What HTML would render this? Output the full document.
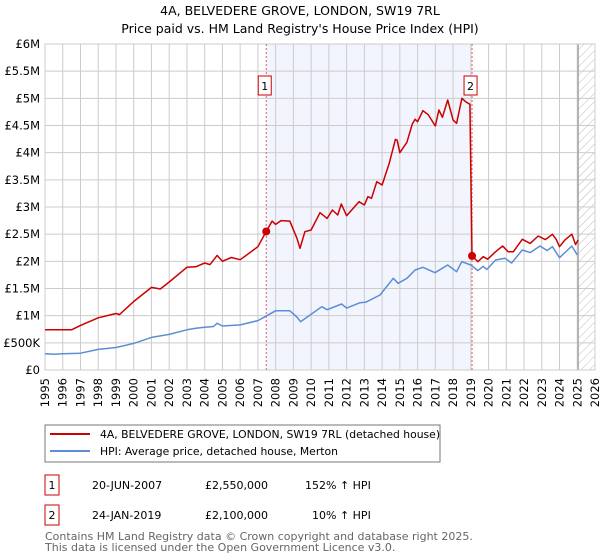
<!DOCTYPE html>
<html><head><meta charset="utf-8"><style>
body{margin:0;background:#fff;font-family:"Liberation Sans","DejaVu Sans",sans-serif;}
svg{display:block}
</style></head><body>
<svg id="c" width="600" height="560" xmlns="http://www.w3.org/2000/svg" font-family="DejaVu Sans, Liberation Sans, sans-serif">
<defs><pattern id="hatch" width="6" height="6" patternUnits="userSpaceOnUse" patternTransform="rotate(45)"><line x1="0" y1="0" x2="0" y2="6" stroke="#bbb" stroke-width="1"/></pattern></defs>
<text x="300" y="15" text-anchor="middle" font-size="12.5">4A, BELVEDERE GROVE, LONDON, SW19 7RL</text>
<text x="300" y="33" text-anchor="middle" font-size="12.5">Price paid vs. HM Land Registry's House Price Index (HPI)</text>
<g id="plot"></g>
<rect x="45" y="425" width="395" height="37" fill="#fff" stroke="#777"/>
<line x1="50" y1="434" x2="90" y2="434" stroke="#cc0000" stroke-width="2"/>
<text x="100" y="438" font-size="10.8">4A, BELVEDERE GROVE, LONDON, SW19 7RL (detached house)</text>
<line x1="50" y1="451" x2="90" y2="451" stroke="#5b8ed6" stroke-width="2"/>
<text x="100" y="455" font-size="10.8">HPI: Average price, detached house, Merton</text>
<g font-size="11">
<rect x="45" y="475" width="14" height="20" fill="#fff" stroke="#cc0000"/>
<text x="52" y="489" text-anchor="middle">1</text>
<text x="92" y="489">20-JUN-2007</text>
<text x="205" y="489">£2,550,000</text>
<text x="305" y="489">152% ↑ HPI</text>
<rect x="45" y="505" width="14" height="20" fill="#fff" stroke="#cc0000"/>
<text x="52" y="519" text-anchor="middle">2</text>
<text x="92" y="519">24-JAN-2019</text>
<text x="205" y="519">£2,100,000</text>
<text x="312" y="519">10% ↑ HPI</text>
</g>
<text x="45" y="540" font-size="11" fill="#666">Contains HM Land Registry data © Crown copyright and database right 2025.</text>
<text x="45" y="551" font-size="11" fill="#666">This data is licensed under the Open Government Licence v3.0.</text>
</svg>
<script>
const hpiYears=[1995,1995.5,1996,1997,1998,1999,2000,2001,2002,2003,2003.5,2004,2004.5,2004.7,2005,2006,2007,2007.5,2008,2008.8,2009.2,2009.4,2009.94,2010.6,2010.9,2011.72,2012,2012.76,2013.1,2013.88,2014.63,2014.9,2015.4,2015.86,2016.3,2016.98,2017.7,2018.2,2018.49,2019.0,2019.4,2019.7,2019.9,2020.4,2020.93,2021.3,2021.9,2022.35,2022.9,2023.3,2023.6,2024.0,2024.69,2025.0];
const hpiValues=[300,290,300,310,380,415,490,600,655,740,770,785,800,860,810,830,910,1000,1090,1090,975,889,1012,1165,1110,1215,1140,1239,1250,1380,1688,1596,1688,1840,1890,1791,1932,1810,1994,1932,1830,1908,1850,2025,2055,1970,2208,2160,2282,2200,2270,2067,2282,2116];
const redYears=[1995,1996.5,1997,1998,1999,1999.2,2000,2001,2001.5,2002,2003,2003.5,2004,2004.3,2004.7,2005,2005.5,2006,2006.3,2007,2007.47,2007.8,2008.0,2008.3,2008.8,2009.2,2009.37,2009.65,2010,2010.5,2010.9,2011.2,2011.5,2011.7,2012,2012.7,2013,2013.2,2013.4,2013.7,2014,2014.4,2014.75,2014.85,2015.0,2015.4,2015.7,2015.86,2016.0,2016.3,2016.6,2017,2017.2,2017.4,2017.7,2018,2018.2,2018.5,2018.7,2018.95,2019.07,2019.4,2019.7,2019.95,2020.4,2020.8,2021.1,2021.4,2021.9,2022.35,2022.8,2023.2,2023.6,2023.8,2024.0,2024.3,2024.7,2024.9,2025.05];
const redValues=[740,740,820,960,1040,1020,1260,1520,1490,1620,1890,1900,1970,1940,2110,2000,2070,2030,2100,2270,2550,2740,2680,2750,2740,2425,2240,2546,2576,2895,2790,2945,2853,3055,2840,3098,3037,3190,3160,3466,3405,3803,4245,4230,4000,4190,4528,4614,4570,4773,4700,4490,4785,4650,4970,4600,4540,5000,4940,4890,2100,1994,2086,2040,2178,2282,2178,2178,2405,2330,2466,2400,2497,2410,2270,2390,2500,2310,2390];
const yTicks=[0,500,1000,1500,2000,2500,3000,3500,4000,4500,5000,5500,6000];
const yTickLabels=["£0","£500K","£1M","£1.5M","£2M","£2.5M","£3M","£3.5M","£4M","£4.5M","£5M","£5.5M","£6M"];
const xTicks=[1995,1996,1997,1998,1999,2000,2001,2002,2003,2004,2005,2006,2007,2008,2009,2010,2011,2012,2013,2014,2015,2016,2017,2018,2019,2020,2021,2022,2023,2024,2025,2026];
const saleYears=[2007.47,2019.07];
const saleValues=[2550,2100];
const saleLabels=["1","2"];
const x0=45,x1=595,y0=370,y1=44,yr0=1995,yr1=2026,vmax=6000,dataEnd=2025.05;
const X=v=>x0+(v-yr0)/(yr1-yr0)*(x1-x0);
const Y=v=>y0-v/vmax*(y0-y1);
const NS="http://www.w3.org/2000/svg";
const g=document.getElementById('plot');
function mk(t,a){const e=document.createElementNS(NS,t);for(const k in a)e.setAttribute(k,a[k]);g.appendChild(e);return e;}
let e;
e=mk('rect',{x:X(saleYears[0]),y:y1,width:X(saleYears[1])-X(saleYears[0]),height:y0-y1,fill:'#f2f5fd'});


e=mk('rect',{x:X(dataEnd),y:y1,width:x1-X(dataEnd),height:y0-y1,fill:'url(#hatch)'});


xTicks.forEach(t=>{
 e=mk('line',{x1:X(t),x2:X(t),y1:y1,y2:y0,stroke:'#cccccc','stroke-width':1});
 
 
 e=mk('text',{x:0,y:0,transform:`translate(${X(t)+4},${y0+8}) rotate(-90)`,'text-anchor':'end','font-size':11.5});
 e.textContent=t;
 
 
});
yTicks.forEach((t,i)=>{
 e=mk('line',{x1:x0,x2:x1,y1:Y(t),y2:Y(t),stroke:'#cccccc','stroke-width':1});
 
 
 e=mk('text',{x:x0-5,y:Y(t)+4,'text-anchor':'end','font-size':11.5});
 e.textContent=yTickLabels[i];
 
 
});
e=mk('line',{x1:X(dataEnd),x2:X(dataEnd),y1:y1,y2:y0,stroke:'#999','stroke-width':1.2});


e=mk('rect',{x:x0,y:y1,width:x1-x0,height:y0-y1,fill:'none',stroke:'#cccccc'});


saleYears.forEach((s,i)=>{
 e=mk('line',{x1:X(s),x2:X(s),y1:y1,y2:y0,stroke:'#e06060','stroke-width':1,'stroke-dasharray':'2,2'});
 
 
});
const pts=(xs,vs)=>xs.map((v,i)=>X(v).toFixed(1)+','+Y(vs[i]).toFixed(1)).join(' ');
e=mk('polyline',{points:pts(hpiYears,hpiValues),fill:'none',stroke:'#5b8ed6','stroke-width':1.5,'stroke-linejoin':'round'});


e=mk('polyline',{points:pts(redYears,redValues),fill:'none',stroke:'#cc0000','stroke-width':1.5,'stroke-linejoin':'round'});


saleYears.forEach((s,i)=>{
 e=mk('circle',{cx:X(s),cy:Y(saleValues[i]),r:4,fill:'#cc0000'});
 
 
 e=mk('rect',{x:X(s)-8,y:76,width:13,height:19,fill:'#fff',stroke:'#cc0000'});
 
 
 e=mk('text',{x:X(s)-1.5,y:90,'text-anchor':'middle','font-size':11});
 e.textContent=saleLabels[i];
 
 
});
</script>
</body></html>
